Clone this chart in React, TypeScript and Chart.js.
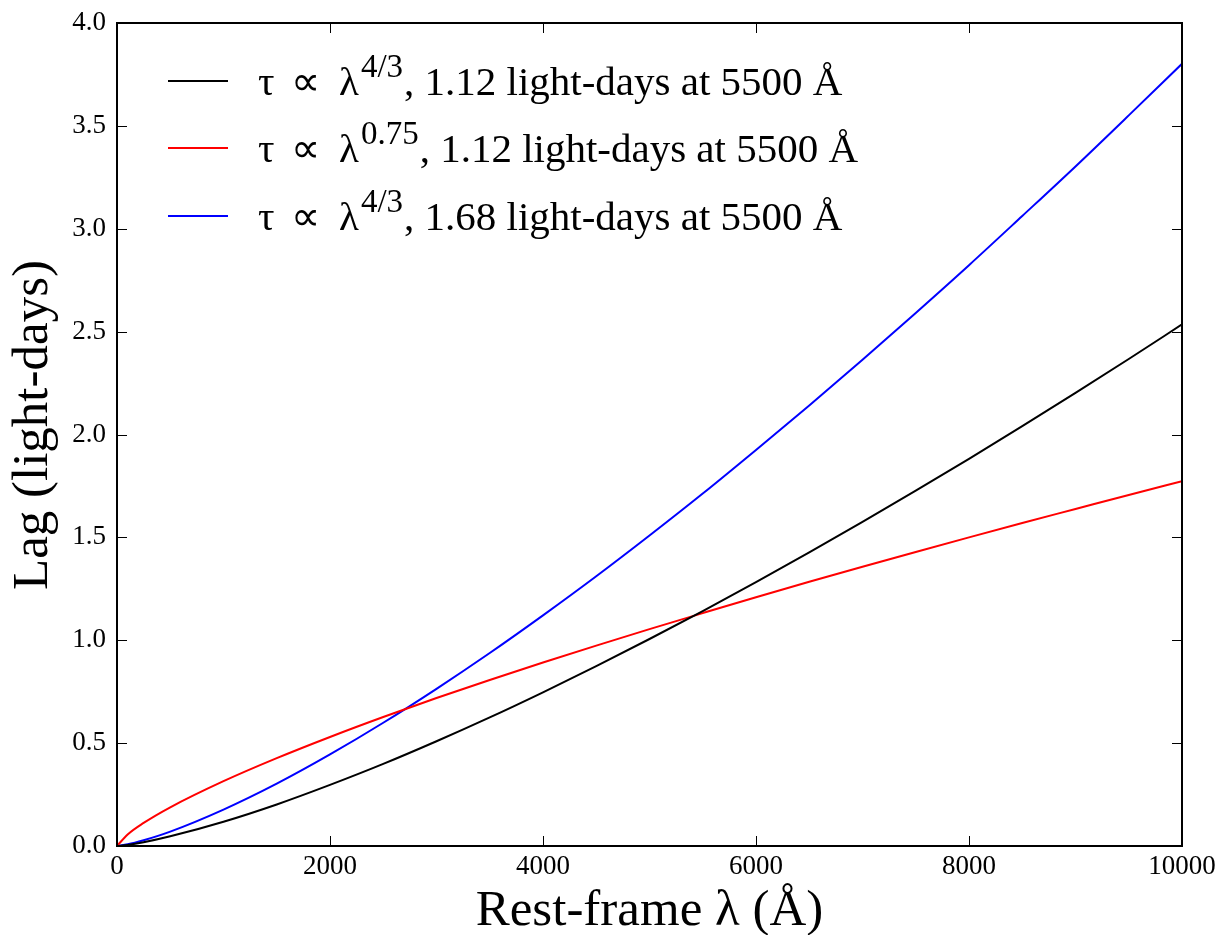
import React, { useEffect, useRef } from "react";
import { Chart, registerables } from "chart.js";

Chart.register(...registerables);

// Rest-frame wavelength samples (Å)
const wavelengths = [
  0, 100, 250, 500, 1000, 1500, 2000, 2500, 3000, 3500, 4000, 4500, 5000,
  5500, 6000, 6500, 7000, 7500, 8000, 8500, 9000, 9500, 10000,
];

// Lag (light-days): tau ∝ λ^(4/3), 1.12 light-days at 5500 Å
const lagSteep112 = [
  0, 0.005, 0.018, 0.047, 0.118, 0.202, 0.297, 0.399, 0.509, 0.625, 0.747,
  0.874, 1.006, 1.142, 1.283, 1.427, 1.575, 1.727, 1.882, 2.041, 2.202, 2.367,
  2.535,
];

// Lag (light-days): tau ∝ λ^0.75, 1.12 light-days at 5500 Å
const lagShallow112 = [
  0, 0.056, 0.112, 0.188, 0.315, 0.427, 0.53, 0.627, 0.719, 0.807, 0.892,
  0.974, 1.054, 1.132, 1.209, 1.284, 1.357, 1.429, 1.5, 1.57, 1.638, 1.706,
  1.773,
];

// Lag (light-days): tau ∝ λ^(4/3), 1.68 light-days at 5500 Å
const lagSteep168 = [
  0, 0.008, 0.028, 0.07, 0.177, 0.303, 0.445, 0.599, 0.764, 0.938, 1.121,
  1.311, 1.509, 1.713, 1.925, 2.141, 2.363, 2.591, 2.823, 3.062, 3.303, 3.551,
  3.802,
];

const xTicks = [0, 2000, 4000, 6000, 8000, 10000];
const yTicks = [0, 0.5, 1.0, 1.5, 2.0, 2.5, 3.0, 3.5, 4.0];

const xTitle = "Rest-frame λ (Å)";
const yTitle = "Lag (light-days)";

const legendEntries = [
  { sup: "4/3", post: ", 1.12 light-days at 5500 Å", color: "#000000" },
  { sup: "0.75", post: ", 1.12 light-days at 5500 Å", color: "#ff0000" },
  { sup: "4/3", post: ", 1.68 light-days at 5500 Å", color: "#0000ff" },
];

const SERIF = '"Liberation Serif", "Times New Roman", serif';

const toPoints = (ys: number[]) => wavelengths.map((x, i) => ({ x, y: ys[i] }));

// Boxed frame with inward ticks on all four sides
const framePlugin = {
  id: "frameTicks",
  afterDatasetsDraw(chart: any) {
    const { ctx, chartArea, scales } = chart;
    const { left, right, top, bottom } = chartArea;
    const tl = 10;
    ctx.save();
    ctx.strokeStyle = "#000";
    ctx.lineWidth = 1;
    ctx.beginPath();
    xTicks.forEach((v) => {
      const px = Math.round(scales.x.getPixelForValue(v)) + 0.5;
      ctx.moveTo(px, bottom);
      ctx.lineTo(px, bottom - tl);
      ctx.moveTo(px, top);
      ctx.lineTo(px, top + tl);
    });
    yTicks.forEach((v) => {
      const py = Math.round(scales.y.getPixelForValue(v)) + 0.5;
      ctx.moveTo(left, py);
      ctx.lineTo(left + tl, py);
      ctx.moveTo(right, py);
      ctx.lineTo(right - tl, py);
    });
    ctx.stroke();
    ctx.lineWidth = 2;
    ctx.strokeRect(left, top, right - left, bottom - top);
    ctx.restore();
  },
};

// Axis titles
const titlePlugin = {
  id: "axisTitles",
  afterDraw(chart: any) {
    const { ctx, chartArea } = chart;
    ctx.save();
    ctx.fillStyle = "#000";
    ctx.font = `51px ${SERIF}`;
    ctx.textAlign = "center";
    ctx.textBaseline = "alphabetic";
    ctx.fillText(xTitle, (chartArea.left + chartArea.right) / 2, 925);
    ctx.translate(47, 425);
    ctx.rotate(-Math.PI / 2);
    ctx.fillText(yTitle, 0, 0);
    ctx.restore();
  },
};

// Legend with math-style spacing and superscript exponents
const legendPlugin = {
  id: "powerLegend",
  afterDraw(chart: any) {
    const { ctx } = chart;
    const fs = 41;
    const supFs = 33;
    const rows = [81, 148, 216];
    ctx.save();
    ctx.textBaseline = "alphabetic";
    ctx.textAlign = "left";
    legendEntries.forEach((e, i) => {
      const y = rows[i];
      ctx.strokeStyle = e.color;
      ctx.lineWidth = 2;
      ctx.beginPath();
      ctx.moveTo(168, y);
      ctx.lineTo(228, y);
      ctx.stroke();
      ctx.fillStyle = "#000";
      const base = y + 14;
      ctx.font = `${fs}px ${SERIF}`;
      ctx.fillText("τ", 258, base);
      ctx.fillText("∝", 291, base);
      ctx.fillText("λ", 339, base);
      let x = 339 + ctx.measureText("λ").width + 2;
      ctx.font = `${supFs}px ${SERIF}`;
      ctx.fillText(e.sup, x, base - 18);
      x += ctx.measureText(e.sup).width + 1;
      ctx.font = `${fs}px ${SERIF}`;
      ctx.fillText(e.post, x, base);
    });
    ctx.restore();
  },
};

export default function App() {
  const canvasRef = useRef<HTMLCanvasElement>(null);

  useEffect(() => {
    if (!canvasRef.current) return;
    const line = (data: number[], color: string) => ({
      data: toPoints(data),
      borderColor: color,
      backgroundColor: color,
      borderWidth: 2,
      pointRadius: 0,
      fill: false,
      cubicInterpolationMode: "monotone" as const,
    });
    const chart = new Chart(canvasRef.current, {
      type: "line",
      data: {
        datasets: [
          line(lagSteep112, "#000000"),
          line(lagShallow112, "#ff0000"),
          line(lagSteep168, "#0000ff"),
        ],
      },
      options: {
        responsive: false,
        animation: false,
        layout: { padding: { left: 0, top: 23, right: 33, bottom: 0 } },
        plugins: { legend: { display: false }, tooltip: { enabled: false } },
        scales: {
          x: {
            type: "linear",
            min: 0,
            max: 10000,
            grid: { display: false, drawTicks: false },
            border: { display: false },
            afterFit: (s: any) => {
              s.height = 89;
              s.paddingLeft = 0;
              s.paddingRight = 0;
            },
            afterBuildTicks: (s: any) => {
              s.ticks = xTicks.map((v) => ({ value: v }));
            },
            ticks: {
              color: "#000",
              padding: 5,
              maxRotation: 0,
              autoSkip: false,
              font: { family: SERIF, size: 27 },
              callback: (v: any) => String(v),
            },
          },
          y: {
            type: "linear",
            min: 0,
            max: 4,
            grid: { display: false, drawTicks: false },
            border: { display: false },
            afterFit: (s: any) => {
              s.width = 117;
              s.paddingTop = 0;
              s.paddingBottom = 0;
            },
            afterBuildTicks: (s: any) => {
              s.ticks = yTicks.map((v) => ({ value: v }));
            },
            ticks: {
              color: "#000",
              padding: 11,
              autoSkip: false,
              font: { family: SERIF, size: 27 },
              callback: (v: any) => Number(v).toFixed(1),
            },
          },
        },
      },
      plugins: [framePlugin, legendPlugin, titlePlugin],
    });
    return () => chart.destroy();
  }, []);

  return (
    <div style={{ position: "absolute", left: 0, top: 0, width: 1215, height: 935, background: "#fff" }}>
      <canvas ref={canvasRef} width={1215} height={935} style={{ display: "block" }} />
    </div>
  );
}
